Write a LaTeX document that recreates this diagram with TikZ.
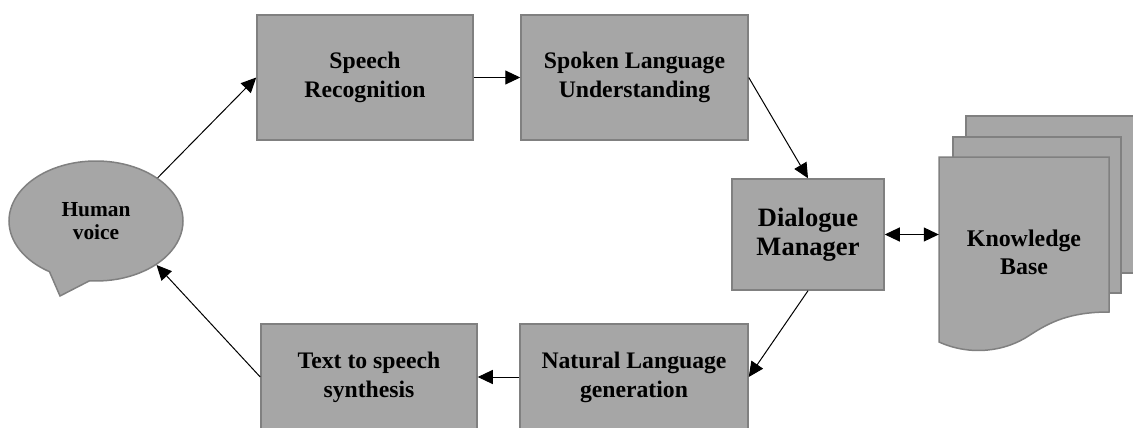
\documentclass[tikz,border=0pt]{standalone}
\usepackage{fontspec}
\setmainfont{Liberation Serif}
\usetikzlibrary{shapes.callouts,arrows.meta}
\definecolor{boxfill}{HTML}{A6A6A6}
\definecolor{boxline}{HTML}{808080}
\begin{document}
\begin{tikzpicture}[x=1pt,y=-1pt,
  box/.style={draw=boxline, fill=boxfill, line width=1.5pt, inner sep=0pt,
    align=center, font=\bfseries\fontsize{23.7}{29}\selectfont},
  page/.style={draw=boxline, fill=boxfill, line width=1.5pt},
  link/.style={line width=1pt, -{Triangle[length=15pt,width=14pt]}},
  twoway/.style={line width=1pt, {Triangle[length=15pt,width=14pt]}-{Triangle[length=15pt,width=14pt]}}]
\useasboundingbox (0,0) rectangle (1133,428);
\clip (0,0) rectangle (1133,428);

% speech bubble
\node[ellipse callout, draw=boxline, fill=boxfill, line width=1.5pt,
      minimum width=174pt, minimum height=120pt, inner sep=0pt,
      callout absolute pointer={(60,296)}, callout pointer arc=28,
      align=center, font=\bfseries\fontsize{21.4}{23.5}\selectfont]
      (hv) at (96,221) {Human\\voice};

% processing stages
\node[box, minimum width=216pt, minimum height=125pt] (sr)  at (365,77.5)  {Speech\\Recognition};
\node[box, minimum width=227pt, minimum height=125pt] (slu) at (634.5,77.5) {Spoken Language\\Understanding};
\node[box, minimum width=152pt, minimum height=111pt,
      font=\bfseries\fontsize{26.5}{29}\selectfont] (dm) at (808,234.5) {Dialogue\\Manager};
\node[box, minimum width=228pt, minimum height=106pt] (nlg) at (634,377) {Natural Language\\generation};
\node[box, minimum width=216pt, minimum height=106pt] (tts) at (369,377) {Text to speech\\synthesis};

% knowledge base: stacked document pages
\draw[page] (966,116) rectangle (1150,273);
\draw[page] (953,137) rectangle (1121,293);
\draw[page] (939,157) -- (1109,157) -- (1109,312)
  .. controls (1070,312) and (1050,322) .. (1030,335)
  .. controls (1005,352) and (970,356) .. (939,342) -- cycle;
\node[inner sep=0pt, minimum width=170pt, minimum height=185pt, align=center,
      font=\bfseries\fontsize{23.9}{28}\selectfont] (kb) at (1024,252) {Knowledge\\Base};

% connectors
\draw[link] (hv.35) -- (sr.west);
\draw[link] (sr.east) -- (slu.west);
\draw[link] (slu.east) -- (dm.north);
\draw[twoway] (dm.east) -- (dm.east -| kb.west);
\draw[link] (dm.south) -- (nlg.east);
\draw[link] (nlg.west) -- (tts.east);
\draw[link] (tts.west) -- (hv.-36);
\end{tikzpicture}
\end{document}
